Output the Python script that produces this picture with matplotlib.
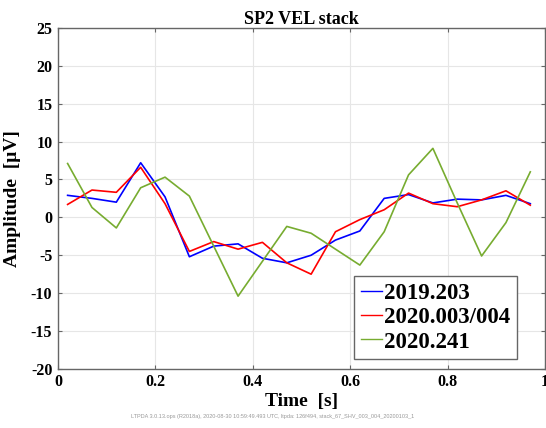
import numpy as np
import matplotlib
matplotlib.use("Agg")
import matplotlib.pyplot as plt

# time samples [s]
t = np.arange(20) * 0.05 + 0.02

# stacked velocity, amplitude in uV
v2019_203 = [2.9, 2.5, 2.0, 7.2, 2.7, -5.2, -3.8, -3.5, -5.4, -6.0,
             -5.0, -3.0, -1.8, 2.5, 3.0, 1.9, 2.4, 2.3, 2.9, 1.8]
v2020_003 = [1.7, 3.6, 3.3, 6.6, 1.8, -4.5, -3.2, -4.2, -3.3, -6.0,
             -7.5, -1.9, -0.3, 1.0, 3.2, 1.8, 1.4, 2.3, 3.5, 1.6]
v2020_241 = [7.1, 1.3, -1.4, 3.9, 5.3, 2.8, -3.8, -10.4, -5.8, -1.2,
             -2.1, -4.2, -6.3, -1.9, 5.6, 9.1, 1.9, -5.1, -0.7, 6.0]

labels = ["2019.203", "2020.003/004", "2020.241"]
colors = ["#0000ff", "#ff0000", "#77ac30"]

plt.rcParams['font.family'] = ['Liberation Serif', 'DejaVu Serif']
plt.rcParams['font.weight'] = 'bold'
plt.rcParams['axes.unicode_minus'] = False

fig = plt.figure(figsize=(5.46, 4.28), dpi=100)
ax = fig.add_axes([0.106, 0.138, 0.892, 0.797])

for y, lab, c in zip([v2019_203, v2020_003, v2020_241], labels, colors):
    ax.plot(t, y, color=c, lw=1.2, label=lab)

ax.set_xlim(0, 1)
ax.set_ylim(-20, 25)
ax.set_xticks([0, 0.2, 0.4, 0.6, 0.8, 1])
ax.set_xticklabels(["0", "0.2", "0.4", "0.6", "0.8", "1"])
ax.set_yticks(np.arange(-20, 26, 5))
ax.grid(True, color="#e6e6e6", lw=0.8)
ax.set_axisbelow(True)
ax.tick_params(direction='in', length=3, top=True, right=True,
               labelsize=11.5, color="#666666", pad=4)
for s in ax.spines.values():
    s.set_color("#666666")
    s.set_linewidth(1.0)
for lbl in ax.get_xticklabels() + ax.get_yticklabels():
    lbl.set_fontweight('bold')

ax.set_title("SP2 VEL stack", fontsize=13, fontweight='bold', pad=3)
ax.set_xlabel("Time  [s]", fontsize=14, fontweight='bold', labelpad=2)
ax.set_ylabel("Amplitude  [\u03bcV]", fontsize=14, fontweight='bold', labelpad=7)

leg = ax.legend(loc='lower right', bbox_to_anchor=(0.943, 0.028),
                prop={'size': 16.5, 'weight': 'bold'}, fancybox=False,
                framealpha=1, edgecolor="#666666", handlelength=0.9,
                handletextpad=0.1, borderpad=0.3, labelspacing=0.15,
                borderaxespad=0)
leg.get_frame().set_linewidth(1.0)
for h in leg.get_lines():
    h.set_linewidth(1.0)

fig.text(0.5, 0.028,
         "LTPDA 3.0.13.ops (R2018a), 2020-08-30 10:59:49.493 UTC, ltpda: 126f494, stack_67_SHV_003_004_20200103_1",
         ha='center', va='center', fontsize=4, color="#999999",
         family='Liberation Sans', fontweight='normal')

fig.savefig("out.png", dpi=100)
